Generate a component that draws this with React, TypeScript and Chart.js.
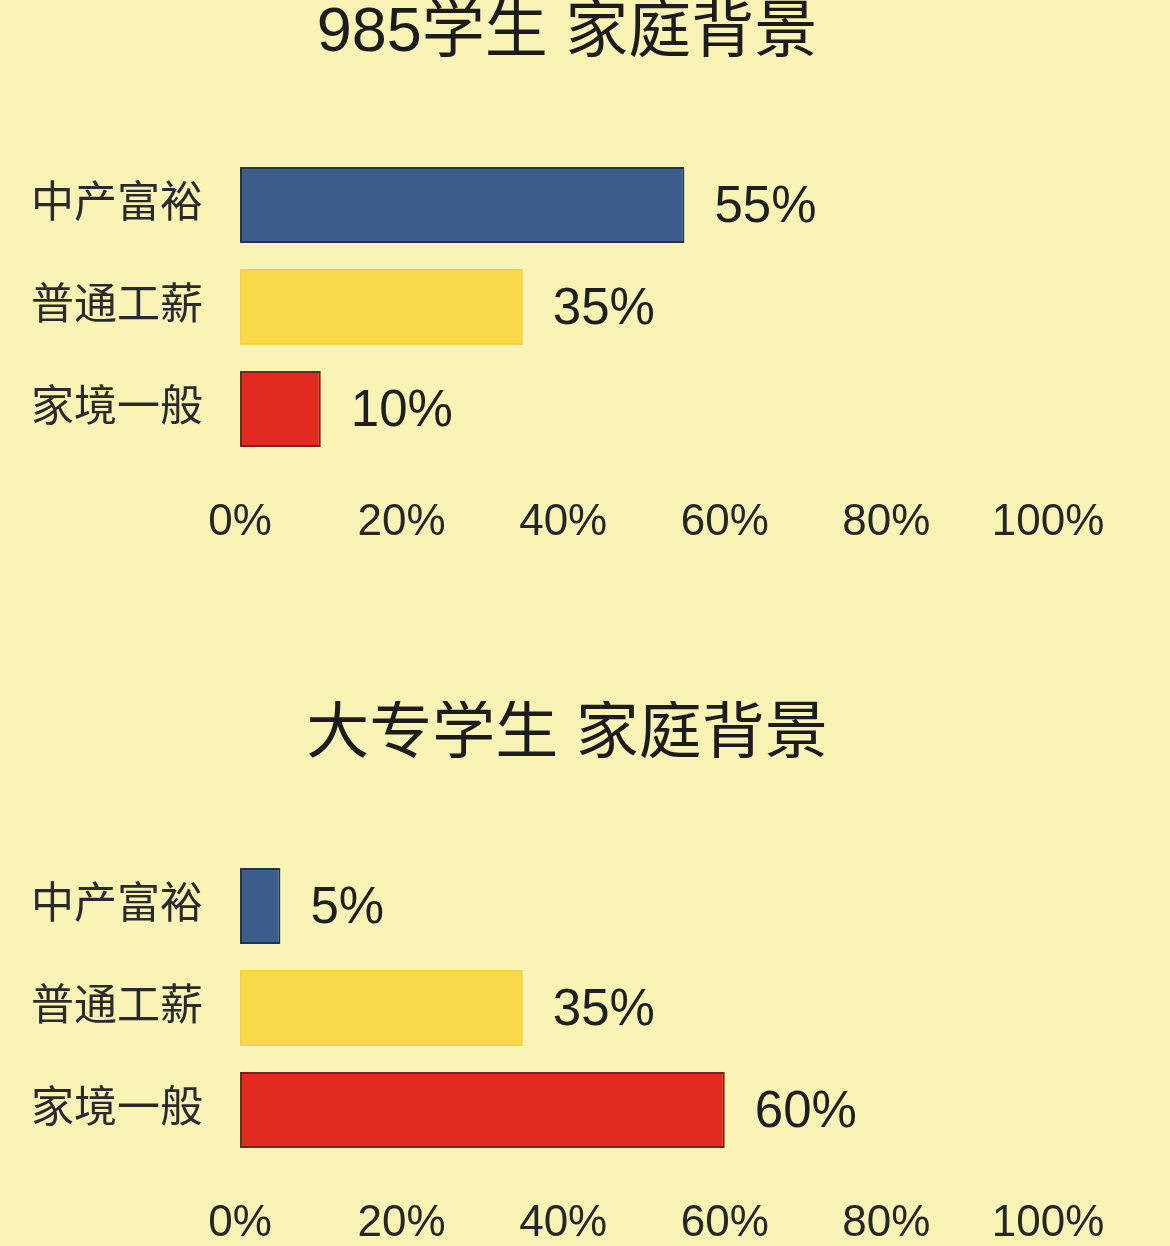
import React, { useEffect, useRef } from 'react';
import { Chart, registerables } from 'chart.js';

Chart.register(...registerables);

// data
const categories = ['中产富裕', '普通工薪', '家境一般'];
const values985 = [55, 35, 10];
const valuesJunior = [5, 35, 60];
const title985 = '985学生 家庭背景';
const titleJunior = '大专学生 家庭背景';
const xTickMin = 0;
const xTickMax = 100;
const xTickStep = 20;

const FONT = "'Liberation Sans', Arial, 'Noto Sans CJK SC', sans-serif";
const BAR_COLORS = ['#3c5c8e', '#f9d84a', '#e22b1f'];
const BAR_BORDERS = ['#263247', '#f3d344', '#6e2a22'];

const valueLabels = {
  id: 'valueLabels',
  afterDatasetsDraw(chart: any) {
    const { ctx } = chart;
    const meta = chart.getDatasetMeta(0);
    const data = chart.data.datasets[0].data as number[];
    ctx.save();
    ctx.font = `51px ${FONT}`;
    ctx.fillStyle = '#1f1f1f';
    ctx.textAlign = 'left';
    ctx.textBaseline = 'middle';
    meta.data.forEach((bar: any, i: number) => {
      ctx.fillText(`${data[i]}%`, bar.x + 30, bar.y + 3);
    });
    ctx.restore();
  },
};

interface PanelProps {
  title: string;
  values: number[];
}

const BarPanel: React.FC<PanelProps> = ({ title, values }) => {
  const canvasRef = useRef<HTMLCanvasElement>(null);
  const chartRef = useRef<Chart | null>(null);

  useEffect(() => {
    if (!canvasRef.current) return;
    const ctx = canvasRef.current.getContext('2d');
    if (!ctx) return;
    if (chartRef.current) chartRef.current.destroy();

    chartRef.current = new Chart(ctx, {
      type: 'bar',
      data: {
        labels: categories,
        datasets: [
          {
            data: values,
            backgroundColor: BAR_COLORS,
            borderColor: BAR_BORDERS,
            borderWidth: 2,
            borderSkipped: false,
            categoryPercentage: 1,
            barPercentage: 0.745,
          },
        ],
      },
      options: {
        indexAxis: 'y',
        animation: false,
        responsive: true,
        maintainAspectRatio: false,
        layout: { padding: { left: 0, right: 36, top: 0, bottom: 0 } },
        plugins: {
          legend: { display: false },
          tooltip: { enabled: false },
          title: {
            display: true,
            text: title,
            color: '#1c1c1c',
            font: { family: FONT, size: 63, weight: 'normal', lineHeight: 1 },
            padding: { top: 2, bottom: 89 },
          },
        },
        scales: {
          x: {
            min: xTickMin,
            max: xTickMax,
            grid: { display: false, drawTicks: false },
            border: { display: false },
            ticks: {
              stepSize: xTickStep,
              padding: 36,
              color: '#262626',
              font: { family: FONT, size: 44 },
              maxRotation: 0,
              callback: (v: any) => `${v}%`,
            },
            afterFit(scale: any) {
              scale.height = 241;
              scale.paddingRight = 122;
              scale.paddingLeft = 0;
            },
          },
          y: {
            grid: { display: false, drawTicks: false },
            border: { display: false },
            ticks: {
              padding: 37,
              color: '#2a2a2a',
              font: { family: FONT, size: 43, lineHeight: 1 },
            },
            afterFit(scale: any) {
              scale.width = 240;
            },
          },
        },
      },
      plugins: [valueLabels],
    });

    return () => {
      if (chartRef.current) {
        chartRef.current.destroy();
        chartRef.current = null;
      }
    };
  }, [title, values]);

  return (
    <div style={{ position: 'relative', width: 1170, height: 701 }}>
      <canvas ref={canvasRef} />
    </div>
  );
};

export default function App() {
  return (
    <div
      style={{
        position: 'fixed',
        top: 0,
        left: 0,
        width: 1170,
        height: 1246,
        overflow: 'hidden',
        background: '#f9f3b6',
      }}
    >
      <BarPanel title={title985} values={values985} />
      <BarPanel title={titleJunior} values={valuesJunior} />
    </div>
  );
}
